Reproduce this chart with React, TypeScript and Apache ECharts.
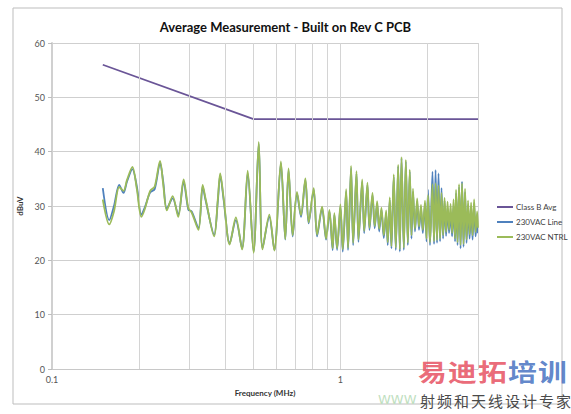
import React, { useEffect, useRef } from "react";
import * as echarts from "echarts";

const TITLE = "Average Measurement - Built on Rev C PCB";
const SERIES_NAMES = ["Class B Avg", "230VAC Line", "230VAC NTRL"];

// Class B average limit (MHz, dBuV)
const LIMIT_FREQ = [0.15, 0.5, 3.0];
const LIMIT_DB = [56, 46, 46];

// measured sweep frequencies (MHz)
const FREQ = [
  0.150, 0.158, 0.164, 0.171, 0.177, 0.182, 0.190, 0.197, 0.204, 0.210,
  0.219, 0.227, 0.237, 0.243, 0.250, 0.262, 0.274, 0.286, 0.297, 0.305,
  0.322, 0.333, 0.341, 0.365, 0.376, 0.383, 0.394, 0.413, 0.434, 0.456,
  0.477, 0.500, 0.521, 0.537, 0.567, 0.590, 0.622, 0.644, 0.661, 0.683,
  0.707, 0.730, 0.756, 0.776, 0.808, 0.830, 0.864, 0.892, 0.916, 0.940,
  0.953, 0.974, 1.000, 1.019, 1.047, 1.063, 1.089, 1.107, 1.137, 1.155,
  1.190, 1.209, 1.241, 1.261, 1.292, 1.315, 1.341, 1.363, 1.388, 1.414,
  1.441, 1.459, 1.483, 1.503, 1.531, 1.556, 1.586, 1.607, 1.629, 1.659,
  1.686, 1.713, 1.740, 1.764, 1.785, 1.814, 1.846, 1.873, 1.903, 1.931,
  1.965, 1.989, 2.013, 2.045, 2.086, 2.112, 2.138, 2.163, 2.189, 2.216,
  2.242, 2.270, 2.297, 2.325, 2.353, 2.381, 2.410, 2.439, 2.468, 2.498,
  2.518, 2.548, 2.579, 2.610, 2.641, 2.673, 2.705, 2.738, 2.771, 2.805,
  2.839, 2.873, 2.908, 2.943, 2.979, 3.000,
];

const LINE_DB = [
  33.3, 27.4, 30.0, 33.9, 32.4, 34.5, 36.8, 33.5, 28.4, 29.8,
  32.5, 33.1, 37.9, 34.5, 29.5, 31.4, 28.4, 34.5, 29.3, 29.0,
  25.9, 33.6, 31.0, 24.7, 31.0, 35.7, 31.0, 23.1, 27.4, 22.2,
  36.0, 21.6, 41.5, 22.2, 28.0, 21.9, 37.9, 23.8, 36.6, 24.4,
  32.3, 28.0, 34.8, 26.8, 33.0, 24.4, 29.6, 23.8, 29.0, 21.9,
  28.4, 21.9, 29.9, 21.6, 32.7, 21.9, 37.0, 22.8, 36.0, 23.4,
  34.5, 25.0, 33.9, 25.6, 32.0, 25.9, 30.5, 25.3, 29.3, 24.1,
  28.7, 22.8, 31.1, 22.2, 35.4, 21.9, 37.3, 21.6, 38.8, 21.9,
  38.2, 22.8, 36.3, 24.0, 32.6, 25.3, 30.8, 25.6, 29.5, 25.0,
  30.5, 23.5, 33.0, 22.8, 36.3, 23.0, 36.6, 23.2, 36.0, 23.5,
  33.3, 24.0, 31.0, 24.5, 29.8, 25.0, 29.0, 24.4, 30.0, 23.5,
  32.4, 22.8, 33.5, 22.2, 34.5, 22.5, 32.6, 23.2, 30.0, 24.0,
  29.5, 23.8, 30.5, 24.4, 28.0, 25.0,
];

const NTRL_DB = [
  31.2, 26.6, 29.0, 33.5, 32.8, 34.8, 37.2, 33.0, 28.0, 29.5,
  32.8, 33.6, 38.3, 34.0, 29.2, 31.8, 28.0, 34.9, 29.6, 28.8,
  25.6, 33.9, 31.3, 24.4, 31.4, 36.0, 31.3, 22.9, 27.9, 22.0,
  36.5, 21.4, 41.8, 22.0, 28.4, 21.8, 38.2, 23.9, 36.9, 24.6,
  32.6, 28.3, 35.1, 27.0, 33.3, 24.7, 29.9, 24.0, 29.3, 22.2,
  28.7, 22.2, 30.3, 22.0, 33.1, 22.3, 37.4, 23.2, 36.4, 23.8,
  34.9, 25.4, 34.3, 26.0, 32.4, 26.3, 30.9, 25.8, 29.7, 24.6,
  29.2, 23.3, 31.6, 22.6, 35.8, 22.3, 37.6, 22.0, 39.0, 22.3,
  38.5, 23.2, 36.7, 24.6, 33.2, 25.8, 31.4, 26.2, 30.2, 25.6,
  31.0, 24.0, 32.0, 23.3, 34.0, 23.5, 34.2, 23.7, 33.8, 24.0,
  32.4, 24.6, 31.5, 25.2, 30.8, 25.6, 30.4, 25.0, 31.2, 24.0,
  33.0, 23.3, 34.0, 22.8, 34.2, 23.0, 33.2, 23.8, 31.0, 24.8,
  30.6, 24.6, 31.2, 25.2, 29.0, 26.0,
];

// minor vertical gridlines of the log frequency axis (MHz)
const MINOR_GRID = [0.2, 0.3, 0.4, 0.5, 0.6, 0.7, 0.8, 0.9, 2, 3];

const WATERMARK_TOP = ["易", "迪", "拓", "培", "训"];
const WATERMARK_BOTTOM = ["射", "频", "和", "天", "线", "设", "计", "专", "家"];

const FONT = "Lato, 'Open Sans', sans-serif";
const CJK = "'Noto Sans CJK SC', sans-serif";

export default function App() {
  const ref = useRef<HTMLDivElement>(null);

  useEffect(() => {
    if (!ref.current) return;
    const chart = echarts.init(ref.current, undefined, { renderer: "svg" });

    const pair = (xs: number[], ys: number[]) => xs.map((x, i) => [x, ys[i]]);

    const graphics: any[] = [
      {
        type: "rect",
        shape: { x: 13, y: 8, width: 549, height: 396 },
        style: { fill: "none", stroke: "#bdbdbd", lineWidth: 1 },
        z: 0,
        silent: true,
      },
      {
        type: "text",
        x: 378,
        y: 393,
        style: { text: "WWW", fontSize: 13, fill: "#bfe0bf", fontFamily: "'DejaVu Sans', sans-serif" },
        z: 50,
        silent: true,
      },
    ];
    WATERMARK_TOP.forEach((ch, i) => {
      graphics.push({
        type: "text",
        x: 418 + i * 30,
        y: 359,
        scaleX: 1.2,
        style: {
          text: ch,
          fontSize: 24,
          fontWeight: "bold",
          fontFamily: CJK,
          fill: i < 3 ? "rgba(232,88,104,0.9)" : "rgba(78,120,196,0.9)",
        },
        z: 60,
        silent: true,
      });
    });
    WATERMARK_BOTTOM.forEach((ch, i) => {
      graphics.push({
        type: "text",
        x: 420 + i * 17,
        y: 393,
        style: { text: ch, fontSize: 15, fontFamily: CJK, fill: "#4a4a4a" },
        z: 60,
        silent: true,
      });
    });

    chart.setOption({
      animation: false,
      backgroundColor: "#ffffff",
      title: {
        text: TITLE,
        left: "center",
        top: 15,
        textStyle: { fontSize: 13, fontWeight: "bold", color: "#111", fontFamily: FONT },
      },
      grid: { left: 52, right: 93, top: 43, bottom: 45, containLabel: false },
      legend: {
        data: SERIES_NAMES,
        orient: "vertical",
        left: 492,
        top: 198,
        itemWidth: 16,
        itemHeight: 2,
        itemGap: 7,
        icon: "rect",
        textStyle: { fontSize: 8, color: "#404040", fontFamily: FONT, padding: [0, 0, 0, -2] },
      },
      xAxis: {
        type: "log",
        logBase: 10,
        min: 0.1,
        max: 3,
        name: "Frequency (MHz)",
        nameLocation: "middle",
        nameGap: 19,
        nameTextStyle: { fontSize: 8, fontWeight: "bold", color: "#333", fontFamily: FONT },
        axisLine: { show: true, lineStyle: { color: "#c8c8c8", width: 1 } },
        axisTick: { show: false },
        axisLabel: {
          fontSize: 9,
          color: "#555",
          fontFamily: FONT,
          margin: 6,
          showMaxLabel: false,
          formatter: (v: number) => String(Number(Number(v).toPrecision(6))),
        },
        splitLine: { show: true, lineStyle: { color: "#d4d4d4", width: 1 } },
      },
      yAxis: {
        type: "value",
        min: 0,
        max: 60,
        interval: 10,
        name: "dBuV",
        nameLocation: "middle",
        nameGap: 19,
        nameRotate: 90,
        nameTextStyle: { fontSize: 8, fontWeight: "bold", color: "#333", fontFamily: FONT },
        axisLine: { show: true, lineStyle: { color: "#d0d0d0", width: 2 } },
        axisTick: { show: true, length: 4, lineStyle: { color: "#bdbdbd" } },
        axisLabel: { fontSize: 9, color: "#555", fontFamily: FONT, margin: 7 },
        splitLine: { show: true, lineStyle: { color: "#cfcfcf", width: 1 } },
      },
      series: [
        {
          name: "grid-minor",
          type: "line",
          data: [],
          silent: true,
          z: 1,
          markLine: {
            silent: true,
            symbol: ["none", "none"],
            label: { show: false },
            lineStyle: { type: "solid", color: "#d4d4d4", width: 1 },
            data: MINOR_GRID.map((f) => ({ xAxis: f })),
          },
        },
        {
          name: SERIES_NAMES[0],
          type: "line",
          data: pair(LIMIT_FREQ, LIMIT_DB),
          showSymbol: false,
          lineStyle: { color: "#6a5597", width: 1.8 },
          itemStyle: { color: "#6a5597" },
          z: 3,
        },
        {
          name: SERIES_NAMES[1],
          type: "line",
          data: pair(FREQ, LINE_DB),
          showSymbol: false,
          smooth: 0.3,
          lineStyle: { color: "#4f81bd", width: 1.8 },
          itemStyle: { color: "#4f81bd" },
          z: 4,
        },
        {
          name: SERIES_NAMES[2],
          type: "line",
          data: pair(FREQ, NTRL_DB),
          showSymbol: false,
          smooth: 0.3,
          lineStyle: { color: "#9bbb59", width: 1.8 },
          itemStyle: { color: "#9bbb59" },
          z: 5,
        },
      ],
      graphic: graphics,
    });

    return () => chart.dispose();
  }, []);

  return (
    <div
      ref={ref}
      style={{ position: "absolute", left: 0, top: 0, width: 571, height: 414, background: "#fff" }}
    />
  );
}
